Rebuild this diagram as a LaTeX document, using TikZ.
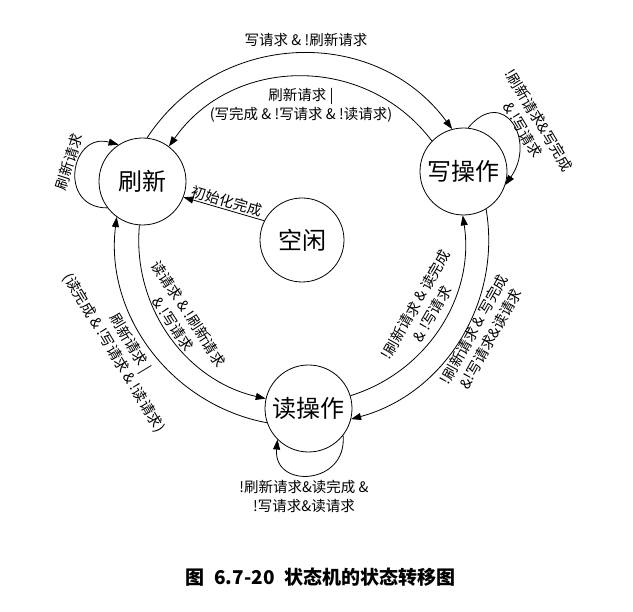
\documentclass[tikz,border=0pt]{standalone}
\usepackage{fontspec}
\setmainfont{Noto Sans CJK SC}
\usepackage{tikz}
\usetikzlibrary{arrows.meta}

\begin{document}
\begin{tikzpicture}[x=1pt,y=1pt,
  state/.style={draw,circle,line width=0.8pt,minimum size=87pt,inner sep=0pt,
    font=\fontsize{24}{28}\selectfont},
  lbl/.style={inner sep=1pt,font=\fontsize{14.5}{19}\selectfont},
  arr/.style={line width=0.8pt,-{Triangle[length=10pt,width=7pt]}}]
\useasboundingbox (0,0) rectangle (633,-612);
% states
\node[state] (shua) at (142.5,-181.5) {刷新};
\node[state] (xie) at (463.5,-171.5) {写操作};
\node[state] (du) at (308.5,-408.5) {读操作};
\node[state,minimum size=84pt] (idle) at (302,-240) {空闲};
% arcs between states
\draw[arr] (shua.84.9) to[out=56.8,in=126.4,distance=129.7] (xie.105.7);
\draw[arr] (xie.136.6) to[out=127.1,in=55.0,distance=110.6] (shua.53.4);
\draw[arr] (shua.266.3) to[out=264.7,in=167.2,distance=81.9] (du.167.4);
\draw[arr] (du.199.2) to[out=169.3,in=262.9,distance=98.2] (shua.234.8);
\draw[arr] (du.17.1) to[out=17.2,in=278.8,distance=80.9] (xie.269.5);
\draw[arr] (xie.-59.8) to[out=-80.4,in=15.1,distance=95.7] (du.-14.6);
\draw[arr] (idle.153.4) -- (shua.-21.2);
% self loops
\draw[arr] (shua.217) to[out=180,in=165,distance=50] (shua.123);
\draw[arr] (xie.84) to[out=50,in=55,distance=55] (xie.-18);
\draw[arr] (du.-38) to[out=-85,in=-95,distance=50] (du.225);
% labels
\node[lbl] (tW) at (306,-40) {写请求 \& !刷新请求};
\node[lbl,align=center] (tS) at (301,-105) {刷新请求 |\\(写完成 \& !写请求 \& !读请求)};
\node[lbl,rotate=72] (tSS) at (69,-162) {刷新请求};
\node[lbl,rotate=-16] (tI) at (227,-201) {初始化完成};
\node[lbl,rotate=-57,align=center] (tSR) at (181,-319) {读请求 \& !刷新请求\\\& !写请求};
\node[lbl,rotate=-59,align=center] (tRS) at (122,-348) {刷新请求 |\\(读完成 \& !写请求 \& !读请求)};
\node[lbl,rotate=60,align=center] (tRW) at (424,-309) {!刷新请求 \& 读完成\\\& !写请求};
\node[lbl,rotate=61,align=center] (tWR) at (482,-334) {!刷新请求 \& 写完成\\\&!写请求\&读请求};
\node[lbl,rotate=-59,align=center] (tWW) at (531,-125) {!刷新请求\&写完成\\\& !写请求};
\node[lbl,align=center] (tRR) at (304,-496) {!刷新请求\&读完成 \&\\!写请求\&读请求};
% caption
\node[font=\fontsize{19}{22}\selectfont\bfseries] (cap) at (320.5,-577) {图\enspace 6.7-20\enspace 状态机的状态转移图};
\end{tikzpicture}
\end{document}
